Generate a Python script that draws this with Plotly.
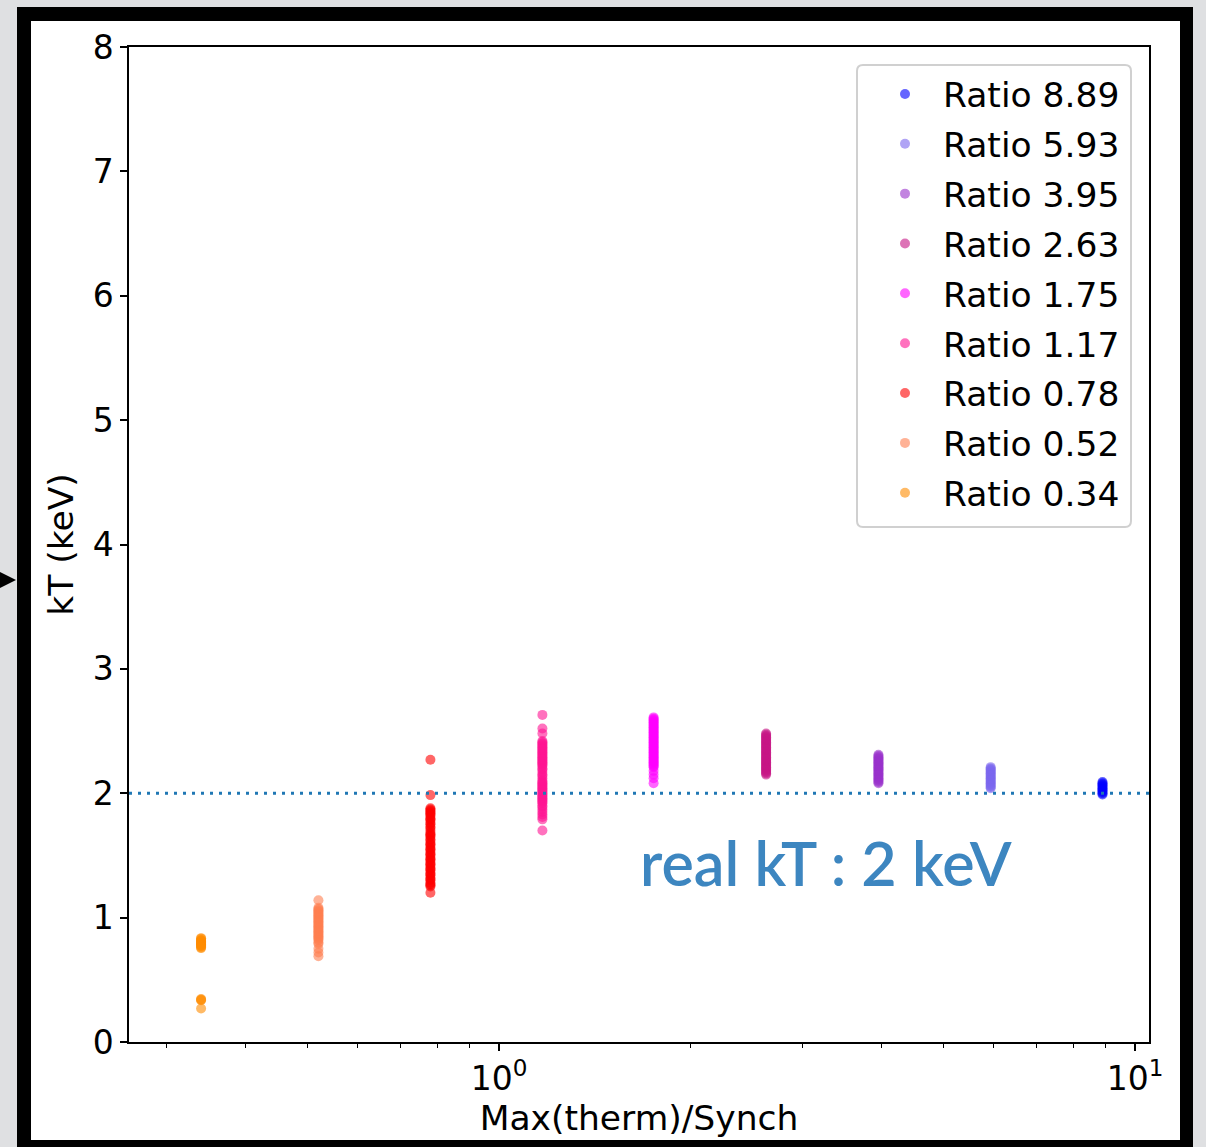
import plotly.graph_objects as go
import math

# ---------------- data ----------------
ratio_labels = ["Ratio 8.89", "Ratio 5.93", "Ratio 3.95", "Ratio 2.63", "Ratio 1.75",
                "Ratio 1.17", "Ratio 0.78", "Ratio 0.52", "Ratio 0.34"]
ratio_x = [8.89, 5.93, 3.95, 2.63, 1.75, 1.17, 0.78, 0.52, 0.34]
colors = ["#0000ff", "#7b68ee", "#9932cc", "#c71585", "#ff00ff",
          "#ff1493", "#ff0000", "#ff7f50", "#ff8c00"]

kt_889 = [2.09, 2.08, 2.07, 2.06, 2.05, 2.04, 2.03, 2.02, 2.01, 2.00, 1.99]
kt_593 = [2.21, 2.20, 2.19, 2.18, 2.17, 2.16, 2.15, 2.14, 2.13, 2.12, 2.11, 2.10,
          2.09, 2.08, 2.07, 2.06, 2.05, 2.04]
kt_395 = [2.31, 2.30, 2.29, 2.28, 2.27, 2.26, 2.25, 2.24, 2.23, 2.22, 2.21, 2.20,
          2.19, 2.18, 2.17, 2.16, 2.15, 2.14, 2.13, 2.12, 2.11, 2.10, 2.09, 2.08]
kt_263 = [2.48, 2.47, 2.46, 2.45, 2.44, 2.43, 2.42, 2.41, 2.40, 2.39, 2.38, 2.37,
          2.36, 2.35, 2.34, 2.33, 2.32, 2.31, 2.30, 2.29, 2.28, 2.27, 2.26, 2.25,
          2.24, 2.23, 2.22, 2.21, 2.20, 2.19, 2.18, 2.17, 2.16, 2.15]
kt_175 = [2.61, 2.60, 2.59, 2.58, 2.57, 2.56, 2.55, 2.54, 2.53, 2.52, 2.51, 2.50,
          2.49, 2.48, 2.47, 2.46, 2.45, 2.44, 2.43, 2.42, 2.41, 2.40, 2.39, 2.38,
          2.37, 2.36, 2.35, 2.34, 2.33, 2.32, 2.31, 2.30, 2.29, 2.28, 2.27, 2.26,
          2.25, 2.24, 2.23, 2.22, 2.21, 2.18, 2.15, 2.12, 2.08]
kt_117 = [2.63, 2.52, 2.48, 2.42, 2.41, 2.40, 2.39, 2.38, 2.37, 2.36, 2.35, 2.34,
          2.33, 2.32, 2.31, 2.30, 2.29, 2.28, 2.27, 2.26, 2.25, 2.24, 2.23, 2.22,
          2.20, 2.19, 2.17, 2.15, 2.14, 2.12, 2.10, 2.09, 2.08, 2.07, 2.06, 2.05,
          2.04, 2.03, 2.02, 2.01, 2.00, 1.99, 1.98, 1.97, 1.96, 1.95, 1.94, 1.93,
          1.92, 1.90, 1.89, 1.87, 1.85, 1.83, 1.81, 1.79, 1.70]
kt_078 = [2.27, 1.985, 1.88, 1.87, 1.86, 1.85, 1.84, 1.83, 1.82, 1.80, 1.79, 1.78,
          1.76, 1.75, 1.73, 1.72, 1.70, 1.68, 1.67, 1.66, 1.65, 1.63, 1.62, 1.60,
          1.59, 1.58, 1.56, 1.55, 1.54, 1.52, 1.51, 1.50, 1.48, 1.47, 1.46, 1.44,
          1.43, 1.42, 1.40, 1.39, 1.38, 1.36, 1.35, 1.34, 1.32, 1.31, 1.30, 1.28,
          1.27, 1.26, 1.25, 1.20]
kt_052 = [1.14, 1.08, 1.07, 1.06, 1.05, 1.04, 1.03, 1.02, 1.01, 1.00, 0.99, 0.98,
          0.97, 0.96, 0.95, 0.94, 0.93, 0.92, 0.91, 0.90, 0.89, 0.88, 0.87, 0.86,
          0.85, 0.84, 0.83, 0.82, 0.80, 0.79, 0.75, 0.72, 0.69]
kt_034 = [0.835, 0.83, 0.82, 0.815, 0.81, 0.80, 0.795, 0.79, 0.785, 0.78, 0.775,
          0.77, 0.76, 0.755, 0.345, 0.34, 0.335, 0.27]

kt_series = [kt_889, kt_593, kt_395, kt_263, kt_175, kt_117, kt_078, kt_052, kt_034]
real_kt = 2.0

x_tickvals = [1, 10]
x_ticktext = ["10<sup>0</sup>", "10<sup>1</sup>"]
x_minor = [0.3, 0.4, 0.5, 0.6, 0.7, 0.8, 0.9, 2, 3, 4, 5, 6, 7, 8, 9]
y_tickvals = [0, 1, 2, 3, 4, 5, 6, 7, 8]

# ---------------- figure ----------------
W, H = 1206, 1147
L, R, T, B = 129, 1149, 47, 1042
pw, ph = R - L, B - T


def px(x):
    return (x - L) / pw


def py(y):
    return (B - y) / ph


fig = go.Figure()
for name, xv, yv, c in zip(ratio_labels, ratio_x, kt_series, colors):
    fig.add_trace(go.Scatter(
        x=[xv] * len(yv), y=yv, mode="markers", name=name,
        legendgroup=name,
        marker=dict(color=c, size=10, opacity=0.6, line=dict(width=0)),
    ))

font = "DejaVu Sans"
fig.update_layout(
    width=W, height=H,
    margin=dict(l=L, r=W - R, t=T, b=H - B, pad=0),
    paper_bgcolor="#dfe0e2",
    plot_bgcolor="rgba(0,0,0,0)",
    font=dict(family=font, size=33, color="black"),
    showlegend=True,
    legend=dict(
        x=px(867), y=py(65), xanchor="left", yanchor="top",
        bgcolor="rgba(0,0,0,0)", borderwidth=0,
        font=dict(family=font, size=34.5, color="black"),
        tracegroupgap=2, itemwidth=66,
    ),
    xaxis=dict(
        type="log", range=[math.log10(0.2619), math.log10(10.52)],
        tickvals=x_tickvals, ticktext=x_ticktext,
        ticks="outside", ticklen=7, tickwidth=1.5, tickcolor="black",
        minor=dict(tickvals=x_minor, ticks="outside", ticklen=4, tickwidth=1.2,
                   tickcolor="black", showgrid=False),
        showgrid=False, zeroline=False,
        showline=True, linecolor="black", linewidth=1.5, mirror=True,
        tickfont=dict(family=font, size=33),
        title=dict(text="Max(therm)/Synch", font=dict(family=font, size=34.5), standoff=4),
    ),
    yaxis=dict(
        range=[0, 8], tickvals=y_tickvals,
        ticks="outside", ticklen=7, tickwidth=1.5, tickcolor="black",
        showgrid=False, zeroline=False,
        showline=True, linecolor="black", linewidth=1.5, mirror=True,
        tickfont=dict(family=font, size=33),
        title=dict(text="kT (keV)", font=dict(family=font, size=34.5), standoff=9),
    ),
)

# slide frame
fig.add_shape(type="rect", xref="paper", yref="paper", layer="below",
              x0=px(17), x1=px(1193), y0=py(1160), y1=py(7),
              fillcolor="black", line=dict(width=0))
fig.add_shape(type="rect", xref="paper", yref="paper", layer="below",
              x0=px(31), x1=px(1180), y0=py(1140), y1=py(21),
              fillcolor="white", line=dict(width=0))
fig.add_shape(type="path", xref="paper", yref="paper", layer="below",
              path=f"M {px(0)},{py(572)} L {px(16)},{py(580)} L {px(0)},{py(588)} Z",
              fillcolor="black", line=dict(width=0))

# legend frame (rounded)
lx0, lx1, ly0, ly1, r = 857, 1131, 65, 527, 6
legend_path = (
    f"M {px(lx0 + r)},{py(ly0)} L {px(lx1 - r)},{py(ly0)} "
    f"Q {px(lx1)},{py(ly0)} {px(lx1)},{py(ly0 + r)} "
    f"L {px(lx1)},{py(ly1 - r)} Q {px(lx1)},{py(ly1)} {px(lx1 - r)},{py(ly1)} "
    f"L {px(lx0 + r)},{py(ly1)} Q {px(lx0)},{py(ly1)} {px(lx0)},{py(ly1 - r)} "
    f"L {px(lx0)},{py(ly0 + r)} Q {px(lx0)},{py(ly0)} {px(lx0 + r)},{py(ly0)} Z"
)
fig.add_shape(type="path", xref="paper", yref="paper", layer="above",
              path=legend_path, fillcolor="rgba(255,255,255,0.8)",
              line=dict(color="#d0d0d0", width=2))

# real kT line
fig.add_shape(type="line", xref="paper", yref="y", x0=0, x1=1, y0=real_kt, y1=real_kt,
              line=dict(color="#1f77b4", width=3, dash="3px,6px"), layer="above")

fig.add_annotation(
    text="real kT : 2 keV", xref="paper", yref="paper",
    x=px(826), y=py(862), xanchor="center", yanchor="middle", showarrow=False,
    font=dict(family="Lato", size=61, color="#3d86c0", weight=600),
)

fig.write_html("out.html", config={"displayModeBar": False},
               post_script="document.body.style.margin='0';document.body.style.overflow='hidden';")
